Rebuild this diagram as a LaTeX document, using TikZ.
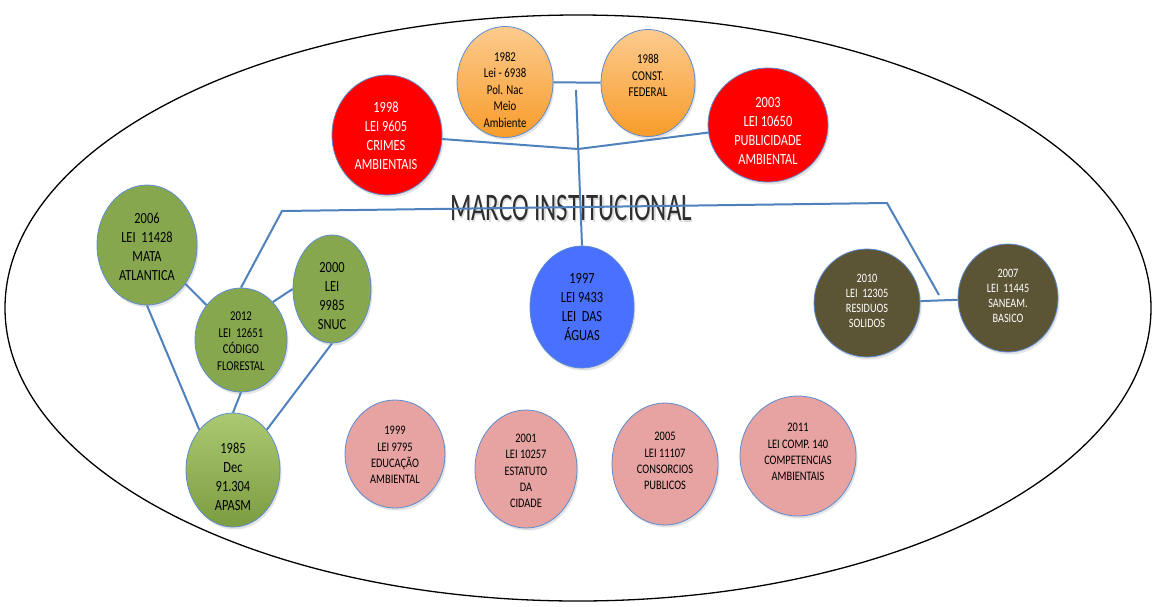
\documentclass[tikz,border=0pt]{standalone}
\usepackage{fontspec}
\setmainfont{Carlito}
\usepackage{graphicx}
\usetikzlibrary{shapes.geometric,shadows}

\definecolor{linkblue}{HTML}{4F81BD}
\definecolor{rimblue}{HTML}{5B8BD0}
\definecolor{lawred}{HTML}{FF0000}
\definecolor{orangetop}{HTML}{FCCB8F}
\definecolor{orangebot}{HTML}{F89C2A}
\definecolor{lawgreen}{HTML}{87A74F}
\definecolor{greentop}{HTML}{ABC971}
\definecolor{greenbot}{HTML}{7C9C41}
\definecolor{lawblue}{HTML}{4A70FF}
\definecolor{lawolive}{HTML}{5B5435}
\definecolor{lawpink}{HTML}{E6A3A2}
\definecolor{titlegray}{HTML}{2E2E2E}

% condensed, centred multi-line label
\newcommand\squeezed[1]{\scalebox{0.8}[1]{\begin{tabular}{@{}c@{}}#1\end{tabular}}}

\begin{document}
\begin{tikzpicture}[x=1pt,y=-1pt,
  law/.style={ellipse, draw=rimblue, line width=0.8pt, inner sep=0pt,
    drop shadow={opacity=0.22, shadow xshift=1.5pt, shadow yshift=-2.5pt}},
  orangelaw/.style={law, top color=orangetop, bottom color=orangebot},
  redlaw/.style={law, fill=lawred},
  greenlaw/.style={law, fill=lawgreen},
  bluelaw/.style={law, fill=lawblue},
  olivelaw/.style={law, fill=lawolive},
  pinklaw/.style={law, fill=lawpink},
  lbl/.style={inner sep=0pt, align=center},
  big/.style={lbl, font=\fontsize{15.5}{19}\selectfont},
  mid/.style={lbl, font=\fontsize{13.5}{16.6}\selectfont},
  small/.style={lbl, font=\fontsize{12.8}{15}\selectfont},
  pinktext/.style={lbl, font=\fontsize{13}{16.3}\selectfont},
  link/.style={draw=linkblue, line width=2pt}]

\useasboundingbox (0,0) rectangle (1154,606);
\fill[white] (0,0) rectangle (1154,606);

% outer frame
\draw[line width=1.3pt] (578,308) ellipse [x radius=573, y radius=293];

% title with a soft shadow
\node[lbl, font=\fontsize{39}{45}\selectfont, text=black!14] (titleshade) at (572.5,209.5)
  {\scalebox{0.64}[1]{MARCO INSTITUCIONAL}};
\node[lbl, font=\fontsize{39}{45}\selectfont, text=titlegray] (title) at (571,208)
  {\scalebox{0.64}[1]{MARCO INSTITUCIONAL}};

% laws
\node[orangelaw, minimum width=96pt, minimum height=111pt] (n1982) at (505,82) {};
\node[orangelaw, minimum width=94pt, minimum height=107pt] (n1988) at (648,83) {};
\node[redlaw, minimum width=110pt, minimum height=120pt] (n1998) at (387,135) {};
\node[redlaw, minimum width=120pt, minimum height=114pt] (n2003) at (768,125) {};
\node[greenlaw, minimum width=100pt, minimum height=120pt] (n2006) at (147,245) {};
\node[greenlaw, minimum width=92pt, minimum height=104pt] (n2012) at (241,340) {};
\node[greenlaw, minimum width=78pt, minimum height=108pt] (n2000) at (332,289) {};
\node[law, top color=greentop, bottom color=greenbot, minimum width=94pt, minimum height=114pt] (n1985) at (233,470) {};
\node[bluelaw, minimum width=104pt, minimum height=122pt] (n1997) at (582,307) {};
\node[olivelaw, minimum width=106pt, minimum height=108pt] (n2010) at (867,303) {};
\node[olivelaw, minimum width=100pt, minimum height=108pt] (n2007) at (1008,298) {};
\node[pinklaw, minimum width=100pt, minimum height=108pt] (n1999) at (395,454) {};
\node[pinklaw, minimum width=102pt, minimum height=118pt] (n2001) at (526,469) {};
\node[pinklaw, minimum width=106pt, minimum height=122pt] (n2005) at (665,464) {};
\node[pinklaw, minimum width=116pt, minimum height=120pt] (n2011) at (798,456) {};

% labels
\node[mid] (t1982) at (505,91) {\squeezed{1982\\Lei - 6938\\Pol. Nac\\Meio\\Ambiente}};
\node[mid] (t1988) at (648,77) {\squeezed{1988\\CONST.\\FEDERAL}};
\node[big, text=white] (t1998) at (386,137) {\squeezed{1998\\LEI 9605\\CRIMES\\AMBIENTAIS}};
\node[big, text=white] (t2003) at (768,132) {\squeezed{2003\\LEI 10650\\PUBLICIDADE\\AMBIENTAL}};
\node[big] (t2006) at (147,248) {\squeezed{2006\\LEI\ \ 11428\\MATA\\ATLANTICA}};
\node[mid] (t2012) at (241,342) {\squeezed{2012\\LEI\ \ 12651\\CÓDIGO\\FLORESTAL}};
\node[big] (t2000) at (332,297) {\squeezed{2000\\LEI\\9985\\SNUC}};
\node[big] (t1985) at (233,478) {\squeezed{1985\\Dec\\91.304\\APASM}};
\node[big] (t1997) at (582,308) {\squeezed{1997\\LEI 9433\\LEI\ \ DAS\\ÁGUAS}};
\node[small, text=white] (t2010) at (867,302) {\squeezed{2010\\LEI\ \ 12305\\RESIDUOS\\SOLIDOS}};
\node[small, text=white] (t2007) at (1008,297) {\squeezed{2007\\LEI\ \ 11445\\SANEAM.\\BASICO}};
\node[pinktext] (t1999) at (395,456) {\squeezed{1999\\LEI 9795\\EDUCAÇÃO\\AMBIENTAL}};
\node[pinktext] (t2001) at (526,472) {\squeezed{2001\\LEI 10257\\ESTATUTO\\DA\\CIDADE}};
\node[pinktext] (t2005) at (665,462) {\squeezed{2005\\LEI 11107\\CONSORCIOS\\PUBLICOS}};
\node[pinktext] (t2011) at (798,453) {\squeezed{2011\\LEI COMP. 140\\COMPETENCIAS\\AMBIENTAIS}};

% junction points of the connector tree
\coordinate (jtop) at (576,90);
\coordinate (jmid) at (578,149);
\coordinate (barL) at (282,211);
\coordinate (barR) at (887,203);
\coordinate (barEnd) at (939,295);

% connectors
\draw[link] (n1982) -- (n1988);
\draw[link] (jtop) -- (n1997.north);
\draw[link] (n1998) -- (jmid) -- (n2003);
\draw[link] (n2012.north) -- (barL) -- (barR) -- (barEnd);
\draw[link] (n2010) -- (n2007);
\draw[link] (n2006) -- (n2012);
\draw[link] (n2012.50) -- (n2000.west);
\draw[link] (n2006.south) -- (n1985.130);
\draw[link] (n2012.south) -- (n1985.north);
\draw[link] (n2000.south) -- (n1985.50);
\end{tikzpicture}
\end{document}
